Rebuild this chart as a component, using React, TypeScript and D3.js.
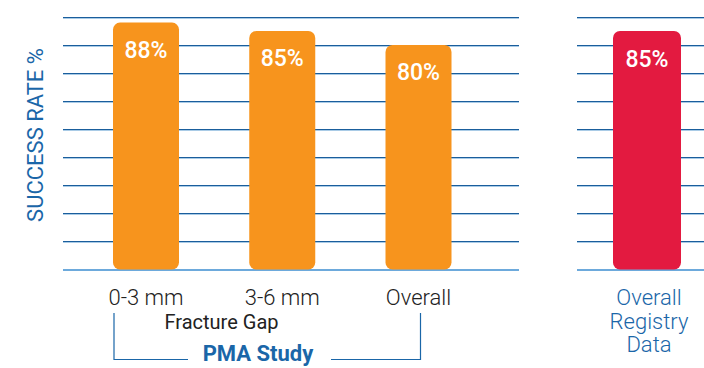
import React from "react";
import * as d3 from "d3";

const studyCategories = ["0-3 mm", "3-6 mm", "Overall"];
const studyValues = [88, 85, 80];
const registryCategories = ["Overall Registry Data"];
const registryLabelLines = ["Overall", "Registry", "Data"];
const registryValues = [85];
const gridTicks = [10, 20, 30, 40, 50, 60, 70, 80, 90];

const W = 704;
const H = 368;
const ORANGE = "#F7941D";
const RED = "#E31A40";
const BLUE = "#1A66A8";
const FONT = "Roboto, 'Open Sans', sans-serif";

export default function App() {
  const y = d3.scaleLinear().domain([0, 90]).range([269.5, 17]);
  const xL = d3.scalePoint<string>().domain(studyCategories).range([146, 418.5]);
  const xR = d3.scalePoint<string>().domain(registryCategories).range([647, 647]);
  const barW = 66;
  const leftRange = [63, 519];
  const rightRange = [577, 704];

  const grid = (r: number[], key: string) => (
    <g key={key}>
      {gridTicks.map((t) => (
        <g key={t}>
          <line x1={r[0]} x2={r[1]} y1={Math.round(y(t)) + 0.5} y2={Math.round(y(t)) + 0.5} stroke="#1A5E9C" strokeWidth={1.2} />
          <line x1={r[0]} x2={r[1]} y1={Math.round(y(t)) + 1.5} y2={Math.round(y(t)) + 1.5} stroke="#A9CBE6" strokeWidth={1} />
        </g>
      ))}
    </g>
  );

  const baseline = (r: number[], key: string) => (
    <line key={key} x1={r[0]} x2={r[1]} y1={y(0) + 0.5} y2={y(0) + 0.5} stroke="#3D8ED0" strokeWidth={1.5} />
  );

  return (
    <svg width={W} height={H} style={{ position: "absolute", left: 0, top: 0, background: "#fff" }}>
      {grid(leftRange, "gl")}
      {grid(rightRange, "gr")}
      {baseline(leftRange, "bl")}
      {baseline(rightRange, "br")}

      {studyCategories.map((c, i) => {
        const cx = xL(c)!;
        return (
          <g key={c}>
            <rect x={cx - barW / 2} y={y(studyValues[i])} width={barW} height={y(0) - y(studyValues[i])} rx={7} ry={7} fill={ORANGE} />
            <text x={cx} y={y(studyValues[i]) + 35} textAnchor="middle" fill="#fff" fontFamily={FONT} fontWeight={500} fontSize={23}>
              {studyValues[i]}%
            </text>
            <text x={cx} y={305} textAnchor="middle" fill="#222" fontFamily={FONT} fontWeight={300} fontSize={22}>
              {c}
            </text>
          </g>
        );
      })}

      {registryCategories.map((c, i) => {
        const cx = xR(c)!;
        return (
          <g key={c}>
            <rect x={cx - barW / 2 - 1} y={y(registryValues[i])} width={barW + 2} height={y(0) - y(registryValues[i])} rx={7} ry={7} fill={RED} />
            <text x={cx} y={y(registryValues[i]) + 36} textAnchor="middle" fill="#fff" fontFamily={FONT} fontWeight={500} fontSize={23}>
              {registryValues[i]}%
            </text>
            {registryLabelLines.map((l, j) => (
              <text key={l} x={cx + 2} y={305 + j * 23.5} textAnchor="middle" fill={BLUE} fontFamily={FONT} fontWeight={300} fontSize={22}>
                {l}
              </text>
            ))}
          </g>
        );
      })}

      <text x={221.5} y={329} textAnchor="middle" fill="#222" fontFamily={FONT} fontWeight={400} fontSize={20}>
        Fracture Gap
      </text>

      <path d="M114,313 V359.5 H188 M331,359.5 H420.5 V313" fill="none" stroke={BLUE} strokeWidth={1.2} />
      <text x={258} y={361} textAnchor="middle" fill={BLUE} fontFamily={FONT} fontWeight={700} fontSize={22}>
        PMA Study
      </text>

      <text transform="translate(43,135) rotate(-90)" textAnchor="middle" fill={BLUE} fontFamily={FONT} fontWeight={400} fontSize={22}>
        SUCCESS RATE %
      </text>
    </svg>
  );
}
